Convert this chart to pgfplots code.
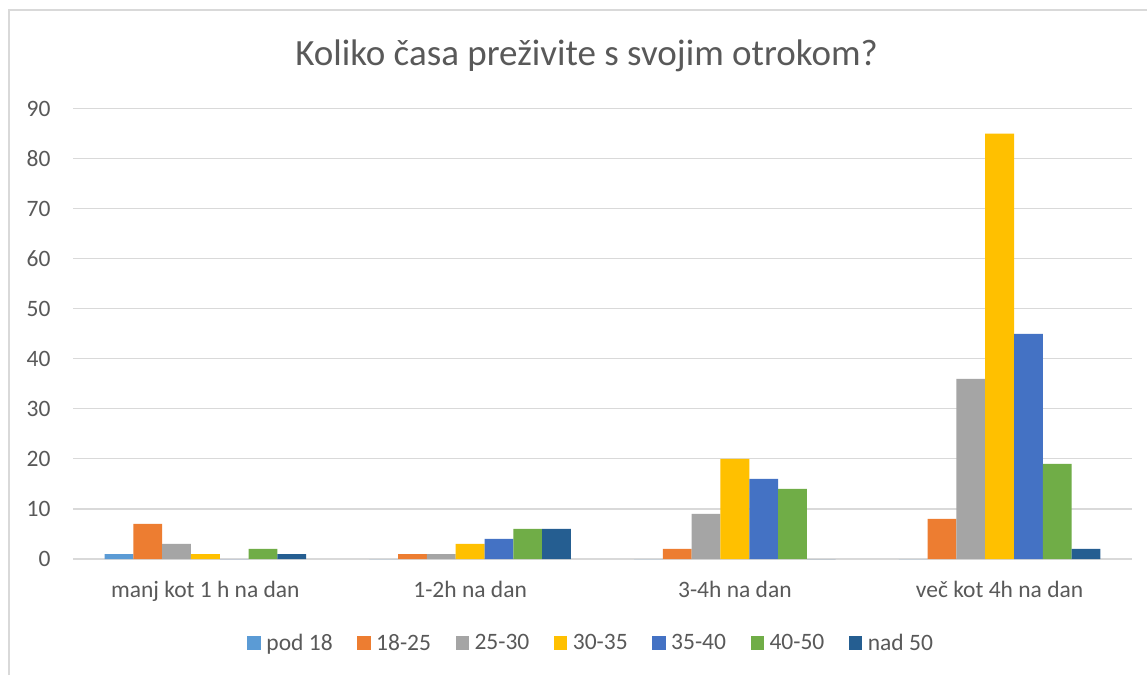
\documentclass[border=0pt]{standalone}
\usepackage{fontspec}
\setmainfont{Carlito}
\usepackage{pgfplots}
\usepackage{pgfplotstable}
\pgfplotsset{compat=1.18}
\definecolor{c1}{HTML}{5B9BD5}
\definecolor{c2}{HTML}{ED7D31}
\definecolor{c3}{HTML}{A5A5A5}
\definecolor{c4}{HTML}{FFC000}
\definecolor{c5}{HTML}{4472C4}
\definecolor{c6}{HTML}{70AD47}
\definecolor{c7}{HTML}{255E91}
\definecolor{gridc}{HTML}{D9D9D9}
\definecolor{txt}{HTML}{595959}
\pgfplotstableread{
x p18 a1825 a2530 a3035 a3540 a4050 n50
0 1 7 3 1 0 2 1
1 0 1 1 3 4 6 6
2 0 2 9 20 16 14 0
3 0 8 36 85 45 19 2
}\data
\begin{document}
\begin{tikzpicture}
\useasboundingbox (0pt,0pt) rectangle (1147pt,675pt);
\fill[white] (0pt,0pt) rectangle (1147pt,675pt);
\draw[gridc, line width=1.5pt] (9pt,0pt) -- (9pt,665pt) -- (1147pt,665pt);
\node[anchor=base, font=\fontsize{37}{44}\selectfont, text=txt, inner sep=0pt] at (586.5pt,609pt) {Koliko časa preživite s svojim otrokom?};
\begin{axis}[
  at={(73pt,116pt)}, anchor=south west, scale only axis,
  width=1059pt, height=450.3pt,
  xmin=-0.5, xmax=3.5, ymin=0, ymax=90, ytick={0,10,...,90},
  xtick={0,1,2,3},
  xticklabels={manj kot 1 h na dan, 1-2h na dan, 3-4h na dan, več kot 4h na dan},
  ybar=0pt, bar width=28.8pt,
  axis line style={draw=none}, major tick length=0pt,
  ymajorgrids, grid style={draw=gridc, line width=1.1pt},
  tick label style={font=\fontsize{23.5}{28}\selectfont, text=txt},
  /pgf/number format/assume math mode=true,
  xticklabel style={anchor=base, yshift=-38pt},
  yticklabel style={xshift=-19pt},
  legend style={at={(0.4896,-0.1865)}, anchor=center, draw=none, fill=none,
    legend columns=-1, font=\fontsize{23.5}{28}\selectfont, text=txt,
    /tikz/every even column/.append style={column sep=22pt},
    /tikz/every odd column/.append style={column sep=3pt},
    nodes={inner sep=2.5pt}},
  legend image code/.code={\fill[#1] (0pt,-6.75pt) rectangle (13.5pt,6.75pt);},
]
\addplot[fill=c1, draw=none] table[x=x, y=p18] {\data};
\addplot[fill=c2, draw=none] table[x=x, y=a1825] {\data};
\addplot[fill=c3, draw=none] table[x=x, y=a2530] {\data};
\addplot[fill=c4, draw=none] table[x=x, y=a3035] {\data};
\addplot[fill=c5, draw=none] table[x=x, y=a3540] {\data};
\addplot[fill=c6, draw=none] table[x=x, y=a4050] {\data};
\addplot[fill=c7, draw=none] table[x=x, y=n50] {\data};
\legend{pod 18, 18-25, 25-30, 30-35, 35-40, 40-50, nad 50}
\end{axis}
\end{tikzpicture}
\end{document}
